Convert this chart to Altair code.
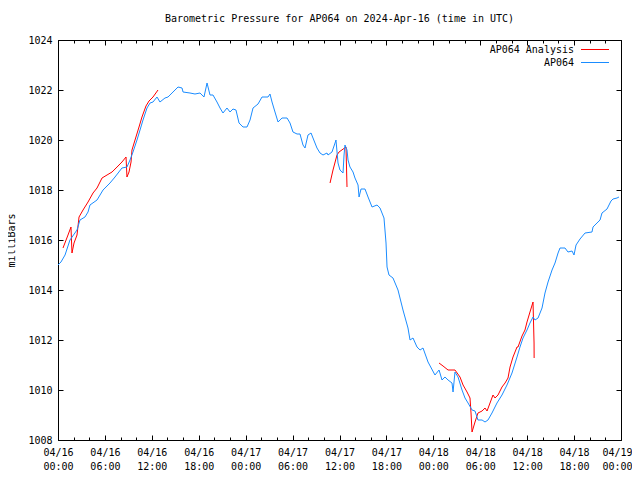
import altair as alt
import pandas as pd

# ---- data (hours after 2024-04-16 00:00 UTC, millibars) ----
blue_hours = [0.0, 0.38, 0.90, 1.53, 2.43, 2.81, 3.45, 3.84, 4.09, 4.99, 5.76, 6.65, 7.29, 8.18, 8.82,
              9.21, 9.59, 10.10, 10.49, 10.87, 11.38, 11.77, 12.15, 12.66, 13.04, 13.68, 14.07, 14.71,
              15.35, 15.86, 15.99, 16.88, 17.52, 18.16, 18.67, 19.06, 19.44, 19.82, 20.33, 20.72, 21.10,
              21.61, 22.00, 22.38, 22.76, 23.15, 23.66, 24.17, 24.56, 24.94, 25.58, 26.09, 26.86, 27.11,
              27.37, 27.75, 28.14, 28.65, 29.29, 29.67, 30.05, 30.57, 30.95, 31.33, 31.59, 31.97, 32.36,
              32.61, 33.12, 33.51, 33.89, 34.40, 34.53, 35.04, 35.43, 35.55, 35.81, 36.06, 36.45, 36.58,
              36.70, 36.96, 37.09, 37.34, 37.73, 37.98, 38.37, 38.50, 38.75, 39.26, 39.65, 40.16, 40.80,
              41.18, 41.69, 41.95, 42.08, 42.33, 42.84, 43.48, 44.12, 44.76, 45.02, 45.40, 45.91, 46.30,
              46.68, 47.32, 48.21, 48.73, 49.11, 49.49, 49.88, 50.39, 50.52, 50.77, 51.16, 51.67, 52.05,
              52.44, 52.95, 53.33, 53.71, 54.23, 54.61, 54.99, 55.50, 56.14, 56.78, 57.42, 58.06, 58.70,
              59.08, 59.47, 59.98, 60.36, 60.75, 61.00, 61.39, 61.90, 62.28, 62.67, 63.18, 63.56, 63.95,
              64.20, 64.84, 65.22, 65.74, 65.99, 66.25, 66.76, 67.40, 68.29, 68.42, 68.93, 69.32, 69.57,
              70.21, 70.72, 70.98, 71.49, 71.74]
blue_mb = [1015.00, 1015.12, 1015.40, 1016.00, 1016.40, 1016.80, 1016.92, 1017.12, 1017.40, 1017.60,
           1018.00, 1018.28, 1018.52, 1018.88, 1018.92, 1019.20, 1019.52, 1020.00, 1020.40, 1020.80,
           1021.28, 1021.48, 1021.52, 1021.72, 1021.52, 1021.68, 1021.72, 1021.92, 1022.12, 1022.08,
           1021.92, 1021.88, 1021.84, 1021.88, 1021.72, 1022.28, 1021.80, 1021.80, 1021.52, 1021.28,
           1021.08, 1021.28, 1021.12, 1021.24, 1021.20, 1020.68, 1020.52, 1020.52, 1020.80, 1021.28,
           1021.44, 1021.72, 1021.72, 1021.84, 1021.52, 1021.12, 1020.72, 1020.88, 1020.88, 1020.68,
           1020.32, 1020.24, 1020.24, 1019.80, 1019.68, 1020.20, 1020.28, 1020.08, 1019.68, 1019.48,
           1019.40, 1019.48, 1019.40, 1019.52, 1019.88, 1020.00, 1019.08, 1018.80, 1018.68, 1019.40,
           1019.80, 1019.60, 1019.20, 1018.92, 1018.72, 1018.48, 1018.20, 1017.72, 1018.04, 1018.04,
           1017.72, 1017.32, 1017.40, 1017.28, 1016.88, 1015.88, 1014.92, 1014.60, 1014.48, 1014.00,
           1013.20, 1012.48, 1012.00, 1012.08, 1011.72, 1011.60, 1011.68, 1011.12, 1010.60, 1010.80,
           1010.40, 1010.52, 1010.40, 1010.28, 1009.92, 1010.72, 1010.52, 1010.00, 1009.68, 1009.48,
           1009.20, 1009.16, 1008.80, 1008.80, 1008.72, 1008.80, 1009.08, 1009.48, 1009.80, 1010.20,
           1010.68, 1011.32, 1011.72, 1012.08, 1012.40, 1012.68, 1012.92, 1012.80, 1012.88, 1013.28,
           1013.88, 1014.32, 1014.80, 1015.08, 1015.48, 1015.68, 1015.68, 1015.52, 1015.56, 1015.40,
           1015.80, 1016.04, 1016.28, 1016.32, 1016.52, 1016.68, 1016.80, 1017.08, 1017.24, 1017.56,
           1017.64, 1017.68, 1017.72]

red_hours = [0.64, 1.28, 1.66, 1.79, 2.05, 2.43, 2.69, 3.20, 3.84, 4.48, 4.99, 5.63, 6.27, 6.91, 7.55,
             8.18, 8.70, 8.82, 9.08, 9.34, 9.46, 9.85, 10.36, 10.74, 11.25, 11.64, 12.15, 12.79,
             34.79, 35.17, 35.68, 35.94, 36.83, 36.96,
             48.73, 49.24, 49.88, 50.77, 51.41, 51.80, 52.31, 52.69, 52.82, 52.95, 53.33, 53.71, 54.23,
             54.61, 54.87, 55.25, 55.63, 55.89, 56.27, 56.78, 57.17, 57.55, 57.81, 58.19, 58.70, 58.83,
             59.34, 59.72, 59.98, 60.36, 60.75, 60.88, 60.89]
red_mb = [1015.68, 1016.20, 1016.52, 1015.48, 1015.88, 1016.20, 1016.92, 1017.20, 1017.52, 1017.88,
          1018.08, 1018.48, 1018.60, 1018.72, 1018.92, 1019.12, 1019.32, 1018.52, 1018.72, 1019.12,
          1019.60, 1020.00, 1020.52, 1020.92, 1021.36, 1021.56, 1021.72, 1022.00,
          1018.28, 1018.80, 1019.40, 1019.52, 1019.72, 1018.12,
          1011.08, 1010.96, 1010.80, 1010.80, 1010.52, 1010.20, 1009.92, 1009.68, 1009.08, 1008.32,
          1008.72, 1009.08, 1009.16, 1009.28, 1009.16, 1009.48, 1009.80, 1009.68, 1009.80, 1010.12,
          1010.28, 1010.48, 1010.92, 1011.32, 1011.72, 1011.72, 1012.16, 1012.40, 1012.72, 1013.12,
          1013.52, 1011.88, 1011.28]
red_seg = [1] * 28 + [2] * 6 + [3] * 33

series_names = ["AP064 Analysis", "AP064"]
series_colors = ["#ff0000", "#1a8cff"]
y_ticks = [1008, 1010, 1012, 1014, 1016, 1018, 1020, 1022, 1024]
major_hours = list(range(0, 73, 6))
minor_hours = list(range(0, 73, 2))

T0 = pd.Timestamp("2024-04-16T00:00:00Z")
T0_MS = int(T0.timestamp() * 1000)
H_MS = 3600 * 1000
T_END_MS = T0_MS + 72 * H_MS


def iso(hours):
    return [(T0 + pd.Timedelta(hours=h)).strftime("%Y-%m-%dT%H:%M:%SZ") for h in hours]


blue_df = pd.DataFrame({"t": iso(blue_hours), "mb": blue_mb, "series": series_names[1], "seg": 0})
red_df = pd.DataFrame({"t": iso(red_hours), "mb": red_mb, "series": series_names[0], "seg": red_seg})

FONT = "DejaVu Sans Mono"
xscale = alt.Scale(type="utc", domain=[T0_MS, T_END_MS], nice=False)
yscale = alt.Scale(domain=[1008, 1024], nice=False, zero=False)
cscale = alt.Scale(domain=series_names, range=series_colors)

major_ms = [T0_MS + h * H_MS for h in major_hours]
minor_ms = [T0_MS + h * H_MS for h in minor_hours]

x_main_axis = alt.Axis(
    orient="bottom", values=major_ms, offset=-5, tickSize=5, domain=False, grid=False,
    labelExpr="[utcFormat(datum.value, '%m/%d'), utcFormat(datum.value, '%H:%M')]",
    labelPadding=7, labelLineHeight=14, labelFlush=False, labelOverlap=False,
    labelBaseline="top", labelBound=False, title=None,
    labelOffset={"condition": {"test": f"datum.value >= {T_END_MS}", "value": -4}, "value": 0},
)
y_main_axis = alt.Axis(orient="left", values=y_ticks, format="d", offset=-5, tickSize=5, domain=False,
                       grid=False, labelPadding=6, labelFlush=False, labelOverlap=False, title="milliBars",
                       titlePadding=11)

red = alt.Chart(red_df).mark_line(strokeWidth=1).encode(
    x=alt.X("t:T", scale=xscale, axis=x_main_axis),
    y=alt.Y("mb:Q", scale=yscale, axis=y_main_axis),
    color=alt.Color("series:N", scale=cscale, legend=None),
    detail="seg:N",
)

blue = alt.Chart(blue_df).mark_line(strokeWidth=1).encode(
    x=alt.X("t:T", scale=xscale, axis=None),
    y=alt.Y("mb:Q", scale=yscale, axis=None),
    color=alt.Color("series:N", scale=cscale, legend=None),
)

# extra tick-only axes (inward ticks, mirrored on top/right, minor ticks on x)
ticks_bottom_minor_right = alt.Chart(blue_df).mark_line(opacity=0).encode(
    x=alt.X("t:T", scale=xscale, axis=alt.Axis(orient="bottom", values=minor_ms, offset=-3, tickSize=3,
                                                domain=False, grid=False, labels=False, title=None)),
    y=alt.Y("mb:Q", scale=yscale, axis=alt.Axis(orient="right", values=y_ticks, offset=-5, tickSize=5,
                                                 domain=False, grid=False, labels=False, title=None)),
)
ticks_top_major = alt.Chart(blue_df).mark_line(opacity=0).encode(
    x=alt.X("t:T", scale=xscale, axis=alt.Axis(orient="top", values=major_ms, offset=-5, tickSize=5,
                                                domain=False, grid=False, labels=False, title=None)),
    y=alt.Y("mb:Q", scale=yscale, axis=None),
)
ticks_top_minor = alt.Chart(blue_df).mark_line(opacity=0).encode(
    x=alt.X("t:T", scale=xscale, axis=alt.Axis(orient="top", values=minor_ms, offset=-3, tickSize=3,
                                                domain=False, grid=False, labels=False, title=None)),
    y=alt.Y("mb:Q", scale=yscale, axis=None),
)

# legend (gnuplot style: label on the left, line sample on the right)
leg_df = pd.DataFrame({"series": series_names})
legend_layers = []
for i, name in enumerate(series_names):
    one = leg_df[leg_df["series"] == name]
    yy = 10 + 13 * i
    legend_layers.append(
        alt.Chart(one).mark_text(align="right", baseline="middle", font=FONT, fontSize=10, color="black")
        .encode(text="series:N", x=alt.value(516), y=alt.value(yy))
    )
    legend_layers.append(
        alt.Chart(one).mark_rule(strokeWidth=1)
        .encode(x=alt.value(523), x2=alt.value(551), y=alt.value(yy - 0.5),
                color=alt.Color("series:N", scale=cscale, legend=None))
    )

chart = alt.layer(
    red, blue, ticks_bottom_minor_right, ticks_top_major, ticks_top_minor, *legend_layers
).resolve_axis(x="independent", y="independent").properties(
    width=563,
    height=400,
    padding={"left": 50, "top": 32, "right": 11, "bottom": 30},
    autosize=alt.AutoSizeParams(type="none"),
    background="white",
    title=alt.TitleParams(
        "Barometric Pressure for AP064 on 2024-Apr-16 (time in UTC)",
        font=FONT, fontSize=10, fontWeight="normal", color="black", anchor="middle", offset=11,
    ),
).configure_view(stroke="black", strokeWidth=1).configure_axis(
    labelFont=FONT, labelFontSize=10, labelColor="black", tickColor="black", tickWidth=1,
    titleFont=FONT, titleFontSize=10, titleFontWeight="normal", titleColor="black",
)

chart.save("out.html", embed_options={"renderer": "svg", "actions": False})
